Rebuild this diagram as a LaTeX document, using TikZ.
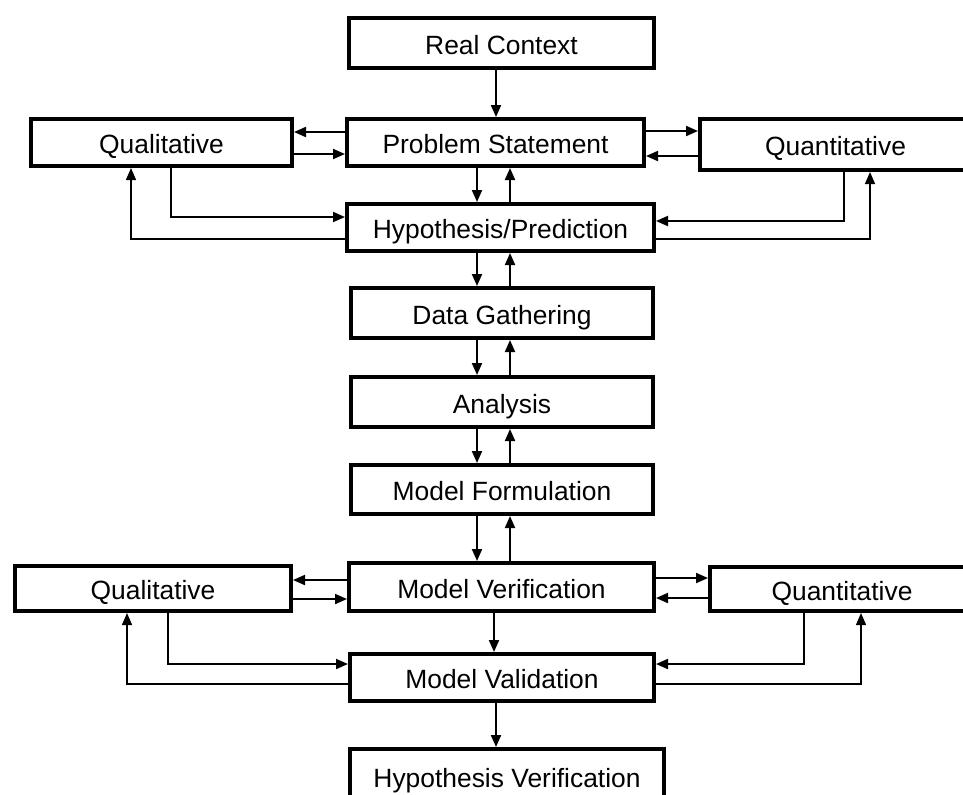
\documentclass[tikz,border=0pt]{standalone}
\usepackage{fontspec}
\setmainfont{Liberation Sans}
\usetikzlibrary{arrows.meta}
\begin{document}
\begin{tikzpicture}[x=0.5pt,y=-0.5pt,
  box/.style={draw, line width=2pt, fill=white, inner sep=0pt, text height=12pt, text depth=1pt, font=\fontsize{13.2}{15}\selectfont},
  arr/.style={line width=1pt, -{Triangle[length=6pt,width=5pt]}},
  thinarr/.style={line width=0.7pt, -{Triangle[length=6pt,width=5pt]}}]
\useasboundingbox (0,0) rectangle (963,794);
\clip (0,0) rectangle (963,794);
% boxes
\node[box, minimum width=152.5pt, minimum height=25pt] (rc) at (501.5,43) {Real Context};
\node[box, minimum width=130.5pt, minimum height=23.5pt] (ql1) at (161.5,142.5) {Qualitative};
\node[box, minimum width=148.5pt, minimum height=23.5pt] (ps) at (495.5,142.5) {Problem Statement};
\node[box, minimum width=135.5pt, minimum height=25.5pt] (qn1) at (835.5,144.5) {Quantitative};
\node[box, minimum width=153.5pt, minimum height=23.5pt] (hyp) at (500.5,227.5) {Hypothesis/Prediction};
\node[box, minimum width=151pt, minimum height=25pt] (dg) at (502,313) {Data Gathering};
\node[box, minimum width=151pt, minimum height=25pt] (an) at (502,402) {Analysis};
\node[box, minimum width=151pt, minimum height=24.5pt] (mf) at (502,489.5) {Model Formulation};
\node[box, minimum width=152.5pt, minimum height=24pt] (mv) at (501.5,587) {Model Verification};
\node[box, minimum width=138pt, minimum height=22.5pt] (ql2) at (153,588.5) {Qualitative};
\node[box, minimum width=132pt, minimum height=22pt] (qn2) at (842,589) {Quantitative};
\node[box, minimum width=152pt, minimum height=23.5pt] (val) at (502,677.5) {Model Validation};
\node[box, minimum width=157pt, minimum height=27pt] (hv) at (507,776) {Hypothesis Verification};
% helper coordinates
\coordinate (xa) at (496,0);
\coordinate (xd) at (477,0);
\coordinate (xu) at (510,0);
\coordinate (xv) at (494,0);
\coordinate (y1) at (0,132);
\coordinate (y2) at (0,154);
\coordinate (y3) at (0,131);
\coordinate (y4) at (0,156);
\coordinate (y5) at (0,580);
\coordinate (y6) at (0,599);
\coordinate (y7) at (0,578);
\coordinate (y8) at (0,598);
\coordinate (h1) at (171,217);
\coordinate (h2) at (131,239);
\coordinate (h3) at (844,221);
\coordinate (h4) at (870,239);
\coordinate (v1) at (168,664);
\coordinate (v2) at (127,684);
\coordinate (v3) at (804,664);
\coordinate (v4) at (861,684);
% top
\draw[arr] (rc.south -| xa) -- (ps.north -| xa);
\draw[arr] (ps.west |- y1) -- (ql1.east |- y1);
\draw[arr] (ql1.east |- y2) -- (ps.west |- y2);
\draw[arr] (ps.east |- y3) -- (qn1.west |- y3);
\draw[arr] (qn1.west |- y4) -- (ps.east |- y4);
\draw[arr] (ps.south -| xd) -- (hyp.north -| xd);
\draw[arr] (hyp.north -| xu) -- (ps.south -| xu);
\draw[arr] (ql1.south -| h1) -- (h1) -- (hyp.west |- h1);
\draw[thinarr] (hyp.west |- h2) -- (h2) -- (ql1.south -| h2);
\draw[arr] (qn1.south -| h3) -- (h3) -- (hyp.east |- h3);
\draw[thinarr] (hyp.east |- h4) -- (h4) -- (qn1.south -| h4);
% middle chain
\draw[arr] (hyp.south -| xd) -- (dg.north -| xd);
\draw[arr] (dg.north -| xu) -- (hyp.south -| xu);
\draw[arr] (dg.south -| xd) -- (an.north -| xd);
\draw[arr] (an.north -| xu) -- (dg.south -| xu);
\draw[arr] (an.south -| xd) -- (mf.north -| xd);
\draw[arr] (mf.north -| xu) -- (an.south -| xu);
\draw[arr] (mf.south -| xd) -- (mv.north -| xd);
\draw[arr] (mv.north -| xu) -- (mf.south -| xu);
% bottom
\draw[arr] (mv.west |- y5) -- (ql2.east |- y5);
\draw[arr] (ql2.east |- y6) -- (mv.west |- y6);
\draw[arr] (mv.east |- y7) -- (qn2.west |- y7);
\draw[arr] (qn2.west |- y8) -- (mv.east |- y8);
\draw[arr] (mv.south -| xv) -- (val.north -| xv);
\draw[arr] (ql2.south -| v1) -- (v1) -- (val.west |- v1);
\draw[thinarr] (val.west |- v2) -- (v2) -- (ql2.south -| v2);
\draw[arr] (qn2.south -| v3) -- (v3) -- (val.east |- v3);
\draw[thinarr] (val.east |- v4) -- (v4) -- (qn2.south -| v4);
\draw[arr] (val.south -| xa) -- (hv.north -| xa);
\end{tikzpicture}
\end{document}
